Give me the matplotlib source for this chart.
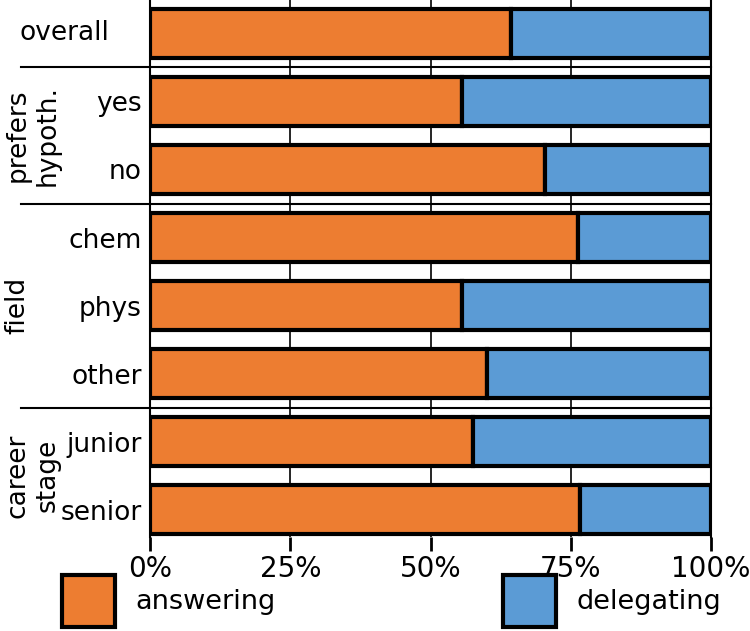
import matplotlib.pyplot as plt
from matplotlib.transforms import blended_transform_factory

labels = ['overall', 'yes', 'no', 'chem', 'phys', 'other', 'junior', 'senior']
answering = [64.3, 55.7, 70.4, 76.3, 55.7, 60.0, 57.5, 76.7]
delegating = [100 - a for a in answering]
group_names = ['prefers\nhypoth.', 'field', 'career\nstage']
group_centers = [1.5, 4, 6.5]
group_breaks = [0.5, 2.5, 5.5]

plt.rcParams['font.family'] = 'DejaVu Sans'
fig = plt.figure(figsize=(7.5, 6.31), dpi=100)
ax = fig.add_axes([150/750, 1 - 537/631, 561/750, 537/631])

pos = list(range(len(labels)))
b1 = ax.barh(pos, answering, height=0.72, color='#ED7D31', edgecolor='black',
             linewidth=3, label='answering', zorder=3)
b2 = ax.barh(pos, delegating, left=answering, height=0.72, color='#5B9BD5',
             edgecolor='black', linewidth=3, label='delegating', zorder=3)

# thin vertical grid behind the bars
for g in [25, 50, 75]:
    ax.axvline(g, color='black', linewidth=1.2, zorder=1)

# group separators reaching into the label area
tr = blended_transform_factory(ax.transAxes, ax.transData)
for y in group_breaks:
    ax.plot([-0.23, 1], [y, y], color='black', linewidth=1.5, transform=tr,
            clip_on=False, zorder=2)

xs = [-0.21, -0.237, -0.21]
for name, yc, x in zip(group_names, group_centers, xs):
    ax.text(x, yc, name, transform=tr, rotation=90, ha='center', va='center',
            fontsize=19)

# "overall" sits centred in the label column
ax.text(-0.152, 0, labels[0], transform=tr, ha='center', va='center', fontsize=19)

ax.set_xlim(0, 100)
ax.set_ylim(7.4, -0.49)
ax.set_yticks(pos)
ax.set_yticklabels([''] + labels[1:], fontsize=19)
ax.tick_params(axis='y', length=0, pad=6)
ax.set_xticks([0, 25, 50, 75, 100])
ax.set_xticklabels(['0%', '25%', '50%', '75%', '100%'], fontsize=20)
ax.tick_params(axis='x', length=10, width=2, pad=3)
ax.spines['top'].set_visible(False)
ax.spines['bottom'].set_visible(False)
ax.spines['left'].set_linewidth(1.5)
ax.spines['right'].set_linewidth(1.5)

fig.legend(handles=[b1, b2], loc='upper left', bbox_to_anchor=(62/750, 1 - 575/631),
           ncol=2, frameon=False, fontsize=19.5, handlelength=1.95, handleheight=2.55,
           columnspacing=8.4, handletextpad=0.75, borderpad=0, borderaxespad=0)

fig.savefig('out.png', dpi=100)
